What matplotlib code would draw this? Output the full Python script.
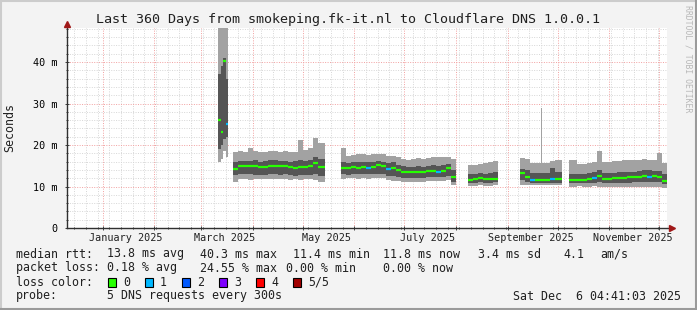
import datetime as dt
import numpy as np
import matplotlib
matplotlib.use('Agg')
import matplotlib.pyplot as plt
from matplotlib.patches import Rectangle

nan = float('nan')

# bin start, in days from the left edge of the graph (a nan row ends a block of data)
t_day = [90.6, 92.1, 93.6, 95.1, 96.6,
         99.6, 102.6, 105.6, 108.6, 111.6, 114.6, 117.6, 120.6, 123.6, 126.6,
         129.6, 132.6, 135.6, 138.6, 141.6, 144.6, 147.6, 150.6, 154.8,
         164.4, 167.4, 170.4, 173.4, 176.4, 179.4, 182.4, 185.4, 188.4, 191.4,
         194.4, 197.4, 200.4, 203.4, 206.4, 209.4, 212.4, 215.4, 218.4, 221.4,
         224.4, 227.4, 230.4, 233.4,
         240.6, 243.6, 246.6, 249.6, 252.6, 255.6, 258.6,
         271.8, 274.8, 277.8, 280.8, 283.8, 284.4, 285.0, 286.8, 289.8, 292.8, 296.8,
         301.2, 306.0, 309.0, 312.0, 315.0, 318.0, 321.0, 324.0, 327.0, 330.0,
         333.0, 336.0, 339.0, 342.0, 345.0, 348.0, 351.0, 354.0, 357.0, 360.0]

# median rtt (ms)
median = [26.1, 23.1, 40.3, 25.1, nan,
          14.3, 15.0, 15.0, 15.0, 14.9, 14.6, 14.8, 15.0, 15.0, 14.9, 15.0, 14.7,
          14.5, 14.8, 14.8, 15.0, 15.6, 14.6, nan,
          14.5, 14.5, 14.6, 14.5, 14.7, 14.4, 14.6, 15.1, 15.0, 14.2, 14.5, 14.0,
          13.6, 13.5, 13.5, 13.6, 13.6, 13.7, 13.7, 13.5, 13.8, 14.4, 12.2, nan,
          11.6, 11.7, 12.0, 11.7, 11.8, 11.9, nan,
          13.2, 12.4, 11.6, 11.6, 11.6, 11.6, 11.6, 11.6, 11.7, 11.9, nan,
          11.5, 11.6, 11.6, 11.7, 12.0, 12.6, 11.9, 11.9, 12.0, 12.1, 12.1, 12.2,
          12.3, 12.4, 12.5, 12.4, 12.5, 12.4, 11.3, nan]

# lost pings out of 5
loss = [0, 0, 0, 1, 0,
        0, 0, 0, 0, 0, 0, 0, 0, 0, 0, 0, 0, 0, 0, 0, 0, 0, 0, 0,
        0, 0, 0, 0, 0, 1, 0, 0, 0, 1, 0, 0, 0, 0, 0, 0, 0, 0, 0, 1, 0, 0, 0, 0,
        0, 0, 0, 0, 0, 0, 0,
        0, 0, 1, 0, 0, 0, 0, 0, 1, 0, 0,
        0, 0, 0, 0, 1, 0, 0, 0, 0, 0, 0, 0, 0, 0, 0, 1, 0, 0, 0, 0]

# smoke: inner (dark) and outer (light) ping ranges
inner_hi = [37.0, 39.0, 41.0, 36.0, nan,
            16.0, 16.2, 16.1, 16.2, 16.3, 16.0, 16.2, 16.3, 16.3, 16.2, 16.2, 16.0,
            16.1, 16.4, 16.2, 16.4, 17.0, 16.6, nan,
            15.8, 15.7, 15.8, 15.8, 15.9, 15.8, 15.9, 16.1, 16.0, 15.7, 15.8, 15.3,
            14.9, 14.8, 14.8, 14.9, 14.8, 15.0, 15.1, 15.0, 15.2, 15.4, 14.0, nan,
            13.0, 13.1, 13.2, 13.1, 13.2, 13.4, nan,
            14.2, 14.0, 13.2, 13.2, 13.2, 13.2, 13.2, 13.2, 14.4, 13.4, nan,
            13.0, 13.1, 13.1, 13.2, 13.4, 14.0, 13.3, 13.3, 13.3, 13.4, 13.4, 13.5,
            13.6, 13.7, 13.9, 13.9, 13.8, 13.7, 13.0, nan]
inner_lo = [19.0, 20.0, 21.5, 22.0, nan,
            12.8, 13.0, 12.9, 12.9, 12.8, 12.7, 12.8, 12.9, 13.0, 12.8, 12.9, 12.7,
            12.6, 12.7, 12.7, 12.8, 12.9, 12.5, nan,
            12.9, 12.8, 12.9, 12.9, 13.0, 12.9, 12.9, 13.1, 13.0, 12.6, 12.6, 12.3,
            12.1, 12.0, 12.0, 12.1, 12.1, 12.2, 12.2, 12.2, 12.4, 12.6, 11.2, nan,
            10.8, 10.8, 11.0, 10.9, 10.9, 11.0, nan,
            11.6, 11.0, 10.8, 10.8, 10.8, 10.8, 10.8, 10.8, 10.9, 10.9, nan,
            10.8, 10.8, 10.8, 10.9, 10.9, 11.0, 10.9, 10.9, 10.9, 10.9, 10.9, 10.9,
            11.0, 11.0, 11.1, 11.1, 11.0, 11.0, 10.6, nan]
outer_hi = [49.0, 49.0, 49.0, 49.0, nan,
            18.2, 18.5, 18.3, 19.3, 18.6, 18.3, 18.4, 18.6, 18.5, 18.3, 18.6, 18.2,
            18.4, 21.3, 18.7, 19.2, 21.7, 20.5, nan,
            19.4, 17.3, 17.6, 17.8, 17.8, 17.7, 17.9, 17.8, 17.8, 17.4, 17.3, 17.0,
            16.6, 16.4, 16.6, 16.8, 16.7, 16.8, 17.0, 17.0, 17.2, 17.2, 16.6, nan,
            15.2, 15.3, 15.5, 15.6, 15.9, 16.1, nan,
            16.9, 16.6, 15.7, 15.6, 15.6, 29.0, 15.7, 15.7, 16.2, 16.4, nan,
            16.3, 15.4, 15.5, 15.6, 15.8, 18.6, 16.0, 15.9, 16.2, 16.1, 16.3, 16.5,
            16.4, 16.5, 16.6, 16.5, 16.4, 18.1, 15.6, nan]
outer_lo = [16.0, 16.6, 18.5, 17.1, nan,
            11.0, 11.7, 11.8, 11.6, 11.8, 11.7, 11.9, 11.8, 11.9, 11.7, 11.8, 11.6,
            11.7, 11.6, 11.7, 11.8, 11.6, 11.2, nan,
            11.8, 12.0, 12.0, 11.9, 12.0, 11.9, 12.0, 12.1, 12.0, 11.6, 11.4, 11.3,
            11.2, 11.1, 11.1, 11.2, 11.2, 11.3, 11.3, 11.3, 11.4, 11.5, 10.4, nan,
            10.2, 10.1, 10.3, 10.2, 10.2, 10.3, nan,
            10.4, 10.3, 10.3, 10.4, 10.3, 10.3, 10.3, 10.3, 10.4, 10.4, nan,
            10.0, 10.1, 10.0, 10.0, 10.1, 10.0, 10.0, 9.9, 9.9, 10.0, 9.9, 9.9,
            10.0, 9.9, 10.0, 10.0, 10.0, 9.8, 9.6, nan]

loss_colors = ['#26ff00', '#00b8ff', '#0059ff', '#7e00ff', '#ff0000', '#a10000']
loss_names = ['0', '1', '2', '3', '4', '5/5']
month_labels = ['January 2025', 'March 2025', 'May 2025', 'July 2025',
                'September 2025', 'November 2025']

W, H = 697, 310
MONO = 'DejaVu Sans Mono'
BG = '#f3f3f3'

t0 = dt.datetime(2024, 12, 10, 14, 0)


def day_of(d):
    return (d - t0).total_seconds() / 86400


def steps(t, v):
    xs, ys = [], []
    for i in range(len(t) - 1):
        xs += [t[i], t[i + 1]]
        ys += [v[i], v[i]]
    return np.array(xs), np.array(ys, dtype=float)


def fx(x):
    return x / W


def fy(y):
    return 1 - y / H


fig = plt.figure(figsize=(W / 100, H / 100), dpi=100)
fig.patch.set_facecolor(BG)
ax = fig.add_axes([fx(67), fy(228), 600 / W, 200 / H])
ax.set_facecolor('white')
ax.set_xlim(0, 360)
ax.set_ylim(0, 48.2)

# grid
months = [day_of(dt.datetime(2025, m, 1)) for m in range(1, 13)]
first_sun = dt.datetime(2024, 12, 15)
weeks = [day_of(first_sun + dt.timedelta(days=7 * k)) for k in range(52)]
weeks = [w for w in weeks if w < 360]
ax.set_xticks(months)
ax.set_xticks(weeks, minor=True)
ax.set_xticklabels([])
ax.set_yticks([0, 10, 20, 30, 40])
ax.set_yticklabels(['0', '10 m', '20 m', '30 m', '40 m'], fontfamily=MONO, fontsize=7.3)
ax.set_yticks(np.arange(0, 48.2, 2), minor=True)
ax.grid(which='minor', color='#d6d6d6', linestyle=(0, (1, 1.5)), lw=0.7)
ax.grid(which='major', color='#f2a0a0', linestyle=(0, (1, 1.5)), lw=0.7)
ax.set_axisbelow(True)
ax.tick_params(which='both', direction='inout', color='#404040', width=0.7)
ax.tick_params(which='major', length=3, pad=5)
ax.tick_params(which='minor', length=2)
for s in ax.spines.values():
    s.set_visible(False)

# smoke
xs, ohi = steps(t_day, outer_hi)
_, olo = steps(t_day, outer_lo)
_, ihi = steps(t_day, inner_hi)
_, ilo = steps(t_day, inner_lo)
ax.fill_between(xs, olo, ohi, color='#a2a2a2', lw=0)
ax.fill_between(xs, ilo, ihi, color='#555555', lw=0)

# median, coloured by packet loss
ax.hlines(median[:-1], t_day[:-1], t_day[1:],
          colors=[loss_colors[k] for k in loss[:-1]], lw=1.6)

# axes with arrows
ax.plot([0, 1.008], [0, 0], transform=ax.transAxes, color='#303030', lw=1, clip_on=False)
ax.plot([0, 0], [0, 1.015], transform=ax.transAxes, color='#303030', lw=1, clip_on=False)
ax.plot([1.008], [0], transform=ax.transAxes, marker='>', ms=4, color='#a01818', clip_on=False)
ax.plot([0], [1.02], transform=ax.transAxes, marker='^', ms=4, color='#a01818', clip_on=False)

# month labels
label_days = [day_of(dt.datetime(2025, m, 15)) for m in (1, 3, 5, 7, 9, 11)]
for d, lab in zip(label_days, month_labels):
    fig.text(fx(67 + d / 360 * 600), fy(238), lab, ha='center', va='center',
             fontfamily=MONO, fontsize=7.3, color='#202020')

# title, y label, watermark
fig.text(fx(348), fy(19), 'Last 360 Days from smokeping.fk-it.nl to Cloudflare DNS 1.0.0.1',
         ha='center', va='center', fontfamily=MONO, fontsize=9.6, color='#202020')
fig.text(fx(10), fy(127), 'Seconds', rotation=90, ha='center', va='center',
         fontfamily=MONO, fontsize=8.4, color='#202020')
fig.text(fx(688), fy(5), 'RRDTOOL / TOBI OETIKER', rotation=270, ha='center', va='top',
         fontfamily=MONO, fontsize=5.9, color='#b8b8b8')

# legend
lines = [
    (254, [(16, 'median rtt:'), (107, '13.8 ms avg'), (200, '40.3 ms max'),
           (293, '11.4 ms min'), (383, '11.8 ms now'), (478, '3.4 ms sd'),
           (563, '4.1'), (600, 'am/s')]),
    (268, [(16, 'packet loss:'), (107, '0.18 % avg'), (200, '24.55 % max'),
           (286, '0.00 % min'), (383, '0.00 % now')]),
    (282, [(16, 'loss color:')]),
    (296, [(16, 'probe:'), (107, '5 DNS requests every 300s')]),
]
for y, parts in lines:
    for x, s in parts:
        fig.text(fx(x), fy(y), s, ha='left', va='center', fontfamily=MONO,
                 fontsize=8.4, color='#202020')
for k, (c, name) in enumerate(zip(loss_colors, loss_names)):
    x = 108 + k * 37
    fig.patches.append(Rectangle((fx(x), fy(287)), 8 / W, 9 / H, transform=fig.transFigure,
                                 facecolor=c, edgecolor='black', lw=0.8))
    fig.text(fx(x + 15), fy(282), name, ha='left', va='center', fontfamily=MONO,
             fontsize=8.4, color='#202020')
fig.text(fx(681), fy(296), 'Sat Dec  6 04:41:03 2025', ha='right', va='center',
         fontfamily=MONO, fontsize=8.4, color='#202020')

# frame
fig.add_artist(plt.Line2D([0, 1], [fy(1), fy(1)], transform=fig.transFigure, color='#cccccc', lw=1.5))
fig.add_artist(plt.Line2D([fx(1), fx(1)], [0, 1], transform=fig.transFigure, color='#cccccc', lw=1.5))
fig.add_artist(plt.Line2D([0, 1], [fy(309), fy(309)], transform=fig.transFigure, color='#9a9a9a', lw=1.5))
fig.add_artist(plt.Line2D([fx(696), fx(696)], [0, 1], transform=fig.transFigure, color='#9a9a9a', lw=1.5))

fig.savefig('out.png', dpi=100, facecolor=BG)
